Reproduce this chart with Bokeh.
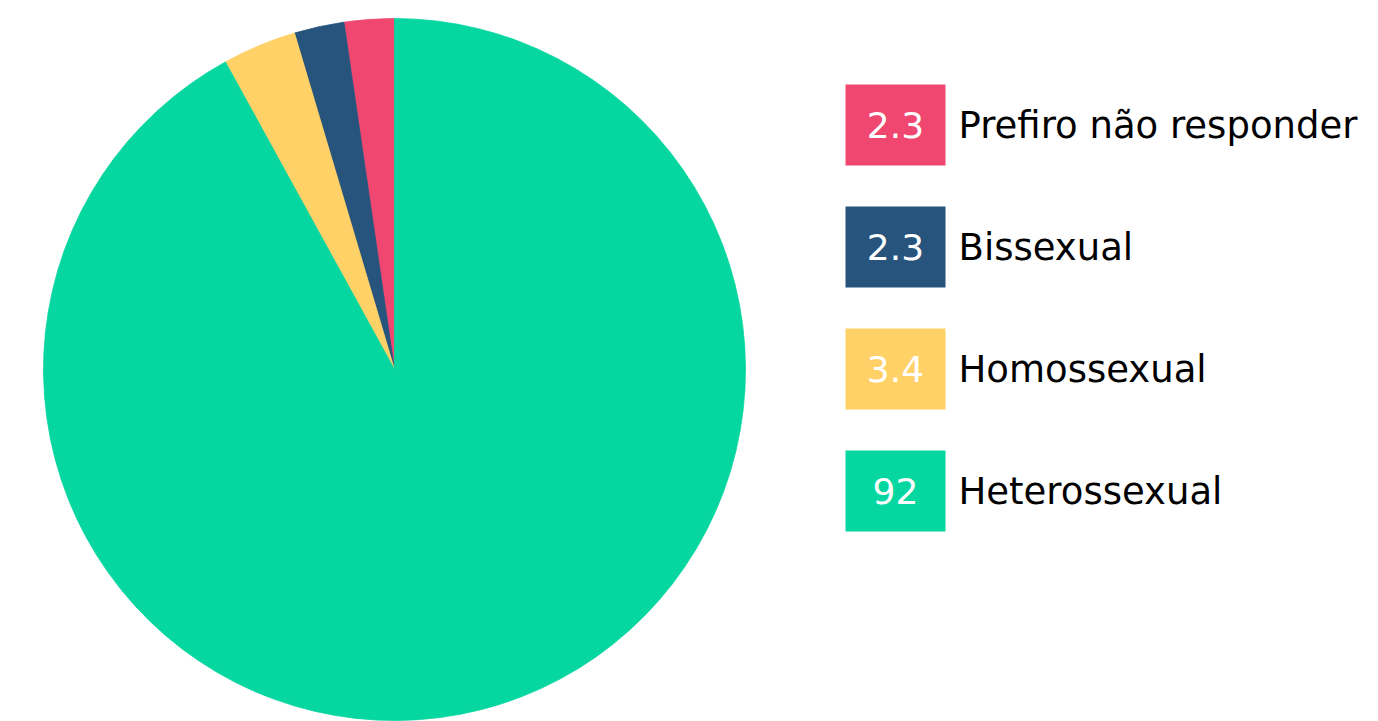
import math
from bokeh.plotting import figure
from bokeh.models import Range1d, ColumnDataSource
from bokeh.core.properties import value
from bokeh.embed import file_html
from bokeh.resources import INLINE

categories = ["Prefiro não responder", "Bissexual", "Homossexual", "Heterossexual"]
values = [2.3, 2.3, 3.4, 92]
value_labels = ["2.3", "2.3", "3.4", "92"]
colors = ["#EF476F", "#26547C", "#FFD166", "#06D6A0"]

W, H = 1378, 721
p = figure(width=W, height=H, output_backend="svg", toolbar_location=None,
           x_range=Range1d(0, W), y_range=Range1d(-H, 0),
           min_border=0, outline_line_color=None)
p.axis.visible = False
p.grid.visible = False
p.background_fill_color = "white"
p.border_fill_color = "white"

total = sum(values)
starts, ends = [], []
cum = 0.0
for v in values:
    starts.append(math.pi / 2 + 2 * math.pi * cum / total)
    cum += v
    ends.append(math.pi / 2 + 2 * math.pi * cum / total)

src = ColumnDataSource(dict(start=starts, end=ends, color=colors, cat=categories))
p.wedge(x=394, y=-369, radius=351, start_angle="start", end_angle="end",
        fill_color="color", line_color="color", line_width=0.8, source=src)

# legend
lx = 845
ly0 = 84
step = 122
bw, bh = 100, 81
ys = [-(ly0 + i * step + bh / 2) for i in range(len(categories))]
lsrc = ColumnDataSource(dict(y=ys, color=colors, cat=categories, val=value_labels))
p.rect(x=lx + bw / 2, y="y", width=bw, height=bh, fill_color="color",
       line_color=None, source=lsrc)
p.text(x=lx + bw / 2, y="y", text="val", text_color="white",
       text_font=value("DejaVu Sans"), text_font_size="36px",
       text_align="center", text_baseline="middle", source=lsrc)
p.text(x=lx + bw + 13, y="y", text="cat", text_color="black",
       text_font=value("DejaVu Sans"), text_font_size="37px",
       text_align="left", text_baseline="middle", source=lsrc)

open("out.html", "w").write(file_html(p, INLINE))
